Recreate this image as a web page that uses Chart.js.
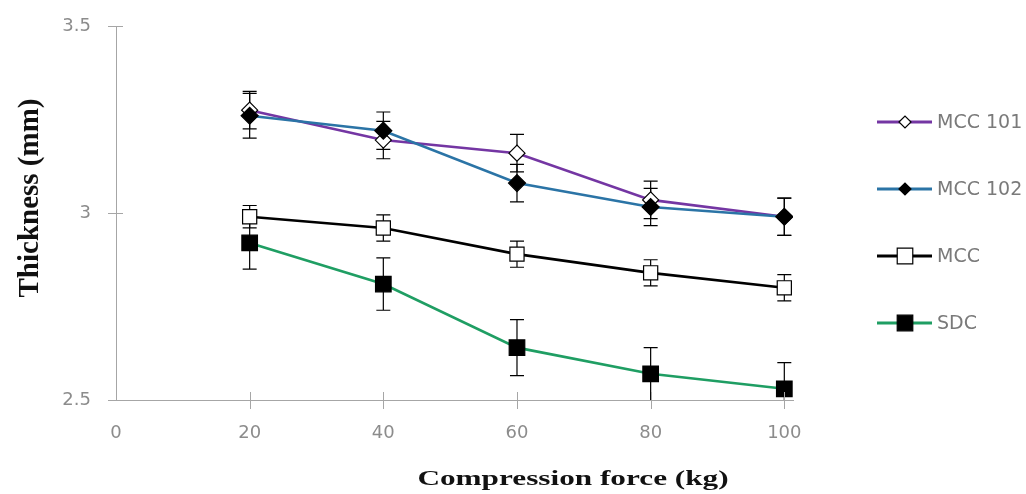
<!DOCTYPE html>
<html>
<head>
<meta charset="utf-8">
<script src="https://cdn.jsdelivr.net/npm/chart.js@4/dist/chart.umd.min.js"></script>
<style>
  html, body { margin: 0; padding: 0; background: #fff; }
  #wrap { width: 1026px; height: 494px; }
</style>
</head>
<body>
<div id="wrap"><canvas id="thickChart"></canvas></div>
<script>
// compression force (kg)
const force = [20, 40, 60, 80, 100];

// mean thickness (mm)
const mcc101 = [3.275, 3.195, 3.16, 3.035, 2.99];
const mcc102 = [3.26, 3.22, 3.08, 3.016, 2.99];
const mcc = [2.99, 2.96, 2.89, 2.84, 2.80];
const sdc = [2.92, 2.81, 2.64, 2.57, 2.53];

// standard deviations
const mcc101Err = [0.05, 0.05, 0.05, 0.05, 0.05];
const mcc102Err = [0.06, 0.05, 0.05, 0.05, 0.05];
const mccErr = [0.03, 0.035, 0.035, 0.035, 0.035];
const sdcErr = [0.07, 0.07, 0.075, 0.07, 0.07];

const xTicks = [0, 20, 40, 60, 80, 100];
const yTicks = [2.5, 3, 3.5];

const series = [
    { label: 'MCC 101', data: mcc101, err: mcc101Err, color: '#7436a3', style: 'rectRot', fill: '#fff', r: 8, order: 4 },
    { label: 'MCC 102', data: mcc102, err: mcc102Err, color: '#2b74a6', style: 'rectRot', fill: '#000', r: 8.5, order: 3 },
    { label: 'MCC', data: mcc, err: mccErr, color: '#000', style: 'rect', fill: '#fff', r: 10, order: 2 },
    { label: 'SDC', data: sdc, err: sdcErr, color: '#1f9e63', style: 'rect', fill: '#000', r: 11, order: 1 }
];

const axisGray = '#a6a6a6';

// error bars, tick crosses, axis titles and side legend
const extras = {
    id: 'extras',
    beforeDatasetsDraw(chart) {
        const { ctx, scales: { x, y }, chartArea } = chart;
        ctx.save();
        ctx.beginPath();
        ctx.rect(chartArea.left, chartArea.top - 20, chartArea.width + 20, chartArea.height + 20);
        ctx.clip();
        ctx.strokeStyle = '#000';
        ctx.lineWidth = 1.2;
        series.forEach(s => {
            s.data.forEach((v, i) => {
                const px = x.getPixelForValue(force[i]);
                const top = y.getPixelForValue(v + s.err[i]);
                const bot = y.getPixelForValue(v - s.err[i]);
                ctx.beginPath();
                ctx.moveTo(px, top); ctx.lineTo(px, bot);
                ctx.moveTo(px - 7, top); ctx.lineTo(px + 7, top);
                if (bot < chartArea.bottom - 1) {
                    ctx.moveTo(px - 7, bot); ctx.lineTo(px + 7, bot);
                }
                ctx.stroke();
            });
        });
        ctx.restore();
    },
    afterDraw(chart) {
        const { ctx, scales: { x, y }, chartArea } = chart;
        ctx.save();
        ctx.strokeStyle = axisGray;
        ctx.lineWidth = 1;
        ctx.beginPath();
        yTicks.forEach(t => {
            const py = Math.round(y.getPixelForValue(t)) + 0.5;
            ctx.moveTo(chartArea.left - 8, py); ctx.lineTo(chartArea.left + 7, py);
        });
        xTicks.forEach(t => {
            if (t === 0) return;
            const px = Math.round(x.getPixelForValue(t)) + 0.5;
            ctx.moveTo(px, chartArea.bottom - 8); ctx.lineTo(px, chartArea.bottom + 9);
        });
        ctx.stroke();

        // axis titles
        ctx.fillStyle = '#111';
        ctx.font = 'bold 22px "Liberation Serif"';
        ctx.textAlign = 'center';
        ctx.textBaseline = 'alphabetic';
        ctx.save();
        ctx.translate(573, 485);
        ctx.scale(1.42, 1);
        ctx.fillText('Compression force (kg)', 0, 0);
        ctx.restore();

        ctx.save();
        ctx.translate(38, 198);
        ctx.rotate(-Math.PI / 2);
        ctx.font = 'bold 29px "Liberation Serif"';
        ctx.fillText('Thickness (mm)', 0, 0);
        ctx.restore();

        // legend
        ctx.font = '19px "DejaVu Sans"';
        ctx.textAlign = 'left';
        ctx.textBaseline = 'middle';
        series.forEach((s, i) => {
            const ly = 122 + i * 67;
            ctx.strokeStyle = s.color;
            ctx.lineWidth = 3;
            ctx.beginPath();
            ctx.moveTo(877, ly); ctx.lineTo(932, ly);
            ctx.stroke();
            ctx.fillStyle = s.fill;
            ctx.strokeStyle = '#000';
            ctx.lineWidth = 1.2;
            Chart.helpers.drawPoint(ctx, { pointStyle: s.style, radius: s.style === 'rect' ? 11 : 6, borderWidth: 1.2 }, 905, ly);
            ctx.fillStyle = '#7a7a7a';
            ctx.fillText(s.label, 937, ly + 1);
        });
        ctx.restore();
    }
};

const ctx = document.getElementById('thickChart').getContext('2d');
const chart = new Chart(ctx, {
    type: 'line',
    data: {
        datasets: series.map(s => ({
            label: s.label,
            data: s.data.map((v, i) => ({ x: force[i], y: v })),
            borderColor: s.color,
            borderWidth: 2.6,
            pointStyle: s.style,
            pointRadius: s.r,
            pointBackgroundColor: s.fill,
            pointBorderColor: '#000',
            pointBorderWidth: 1.2,
            tension: 0,
            order: s.order
        }))
    },
    options: {
        responsive: true,
        maintainAspectRatio: false,
        animation: false,
        layout: { padding: { top: 26, right: 233, bottom: 0, left: 0 } },
        plugins: { legend: { display: false }, tooltip: { enabled: false } },
        scales: {
            x: {
                type: 'linear',
                min: 0,
                max: 101.3,
                afterBuildTicks: axis => { axis.ticks = xTicks.map(v => ({ value: v })); },
                afterFit: axis => { axis.height = 94; axis.paddingLeft = 0; axis.paddingRight = 0; },
                grid: { display: false },
                border: { color: axisGray, width: 1 },
                ticks: { color: '#8c8c8c', font: { family: 'DejaVu Sans', size: 18 }, padding: 15 }
            },
            y: {
                min: 2.5,
                max: 3.5,
                afterBuildTicks: axis => { axis.ticks = yTicks.map(v => ({ value: v })); },
                afterFit: axis => { axis.width = 116; axis.paddingTop = 0; axis.paddingBottom = 0; },
                grid: { display: false },
                border: { color: axisGray, width: 1 },
                ticks: {
                    color: '#8c8c8c',
                    font: { family: 'DejaVu Sans', size: 18 },
                    padding: 17,
                    callback: v => String(v)
                }
            }
        }
    },
    plugins: [extras]
});
</script>
</body>
</html>
